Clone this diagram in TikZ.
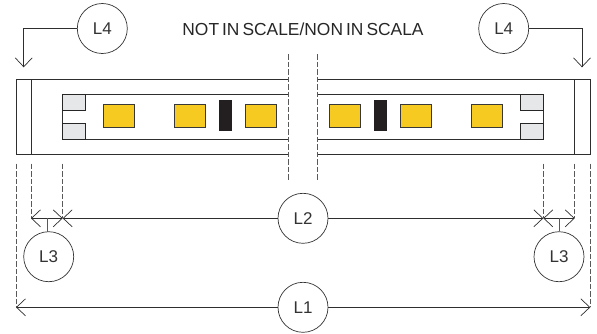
\documentclass[tikz,border=0pt]{standalone}
\usepackage{fontspec}
\setmainfont{Liberation Sans}
\usetikzlibrary{arrows.meta}
\pgfdeclarearrow{
  name=VBarb,
  setup code={
    \pgfarrowssettipend{0.5pt}
    \pgfarrowssetlineend{0pt}
    \pgfarrowssetbackend{-9pt}
    \pgfarrowssetvisualbackend{0pt}
    \pgfarrowshullpoint{-9pt}{8.5pt}
    \pgfarrowshullpoint{-9pt}{-8.5pt}
    \pgfarrowshullpoint{0.5pt}{0pt}
  },
  drawing code={
    \pgfsetdash{}{0pt}
    \pgfsetmiterjoin
    \pgfpathmoveto{\pgfqpoint{-9pt}{8.5pt}}
    \pgfpathlineto{\pgfqpoint{0pt}{0pt}}
    \pgfpathlineto{\pgfqpoint{-9pt}{-8.5pt}}
    \pgfusepathqstroke
  }
}
\tikzset{
  x=1pt,y=-1pt,
  ln/.style={draw=black!82,line width=0.8pt},
  dim/.style={ln,line width=0.7pt},
  dsh/.style={draw=black!65,line width=1pt,dash pattern=on 5.5pt off 2pt},
  bub/.style={circle,draw=black!80,line width=0.7pt,fill=white,minimum size=50pt,inner sep=0pt,font=\fontsize{17}{19}\selectfont,text=black!80},
  led/.style={fill=ledy,draw=black!78,line width=0.8pt},
  pad/.style={fill=padg,draw=black!85,line width=0.8pt},
  chip/.style={fill=chipk,draw=none},
  barb/.style={-{VBarb}},
  barbs/.style={{VBarb}-{VBarb}}
}
\definecolor{ledy}{HTML}{F7CA22}
\definecolor{padg}{HTML}{E6E7E8}
\definecolor{chipk}{HTML}{231F20}
\begin{document}
\begin{tikzpicture}
\useasboundingbox (0,0) rectangle (597,333);
% strip
\draw[ln] (288.3,79.5) -- (16,79.5) -- (16,154.7) -- (288.3,154.7);
\draw[ln] (317.7,79.5) -- (590.3,79.5) -- (590.3,154.7) -- (317.7,154.7);
\draw[ln] (31,79.5) -- (31,154.7);
\draw[ln] (574.7,79.5) -- (574.7,154.7);
\draw[ln] (288.3,94.3) -- (62.7,94.3) -- (62.7,139) -- (288.3,139);
\draw[ln] (317.7,94.3) -- (543.3,94.3) -- (543.3,139) -- (317.7,139);
% pads
\draw[pad] (62.7,94.3) rectangle (85.5,110);
\draw[pad] (62.7,123.5) rectangle (85.5,139);
\draw[pad] (520.7,94.3) rectangle (543.3,110);
\draw[pad] (520.7,123.5) rectangle (543.3,139);
% leds
\draw[led] (103.5,104.4) rectangle (134.3,127.3);
\draw[led] (174.5,104.4) rectangle (205.3,127.3);
\draw[led] (245.5,104.4) rectangle (276.5,127.3);
\draw[led] (329.5,104.4) rectangle (360.3,127.3);
\draw[led] (400.5,104.4) rectangle (431.7,127.3);
\draw[led] (471.8,104.4) rectangle (502.7,127.3);
\fill[chip] (219,100) rectangle (231.7,131);
\fill[chip] (374.3,100) rectangle (387.3,131);
% break lines
\draw[dsh] (288.3,54) -- (288.3,180);
\draw[dsh] (317.7,54) -- (317.7,180);
% title
\node[font=\fontsize{17.4}{19}\selectfont,text=black!85,inner sep=0pt] (title) at (303,29) {\spaceskip=3pt NOT IN SCALE/NON IN SCALA};
% extension lines
\coordinate (l1a) at (16,307.3);
\coordinate (l1b) at (590.3,307.3);
\coordinate (l3a) at (31,218.3);
\coordinate (l3b) at (62.7,218.3);
\coordinate (l3c) at (543.3,218.3);
\coordinate (l3d) at (574.7,218.3);
\draw[dsh] (16,163.7) -- (l1a);
\draw[dsh] (31,163.7) -- (l3a);
\draw[dsh] (62.7,163.7) -- (l3b);
\draw[dsh] (543.3,163.7) -- (l3c);
\draw[dsh] (574.7,163.7) -- (l3d);
\draw[dsh] (590.3,163.7) -- (l1b);
% dimension lines
\draw[dim,barbs] (l1a) -- (l1b);
\draw[dim,barbs] (l3a) -- (l3b);
\draw[dim,barbs] (l3d) -- (l3c);
\draw[dim,barb] (303,218.3) -- (l3b);
\draw[dim,barb] (303,218.3) -- (l3c);
% bubbles
\node[bub] (L2) at (303,218.3) {L2};
\node[bub] (L1) at (303,307.3) {L1};
\node[bub] (L3a) at (48.7,256.7) {L3};
\node[bub] (L3b) at (559,256.7) {L3};
\node[bub] (L4a) at (102.3,28.5) {L4};
\node[bub] (L4b) at (503.7,28.5) {L4};
\coordinate (s1) at (47,218.3);
\coordinate (s2) at (559,218.3);
\draw[dim,line width=1pt,draw=black!65] (s1) -- (47,232);
\draw[dim,line width=1pt,draw=black!65] (s2) -- (L3b);
\coordinate (a1) at (23.7,67.3);
\coordinate (a2) at (582,67.3);
\draw[dim,barb] (L4a.west) -| (a1);
\draw[dim,barb] (L4b.east) -| (a2);
\end{tikzpicture}
\end{document}
